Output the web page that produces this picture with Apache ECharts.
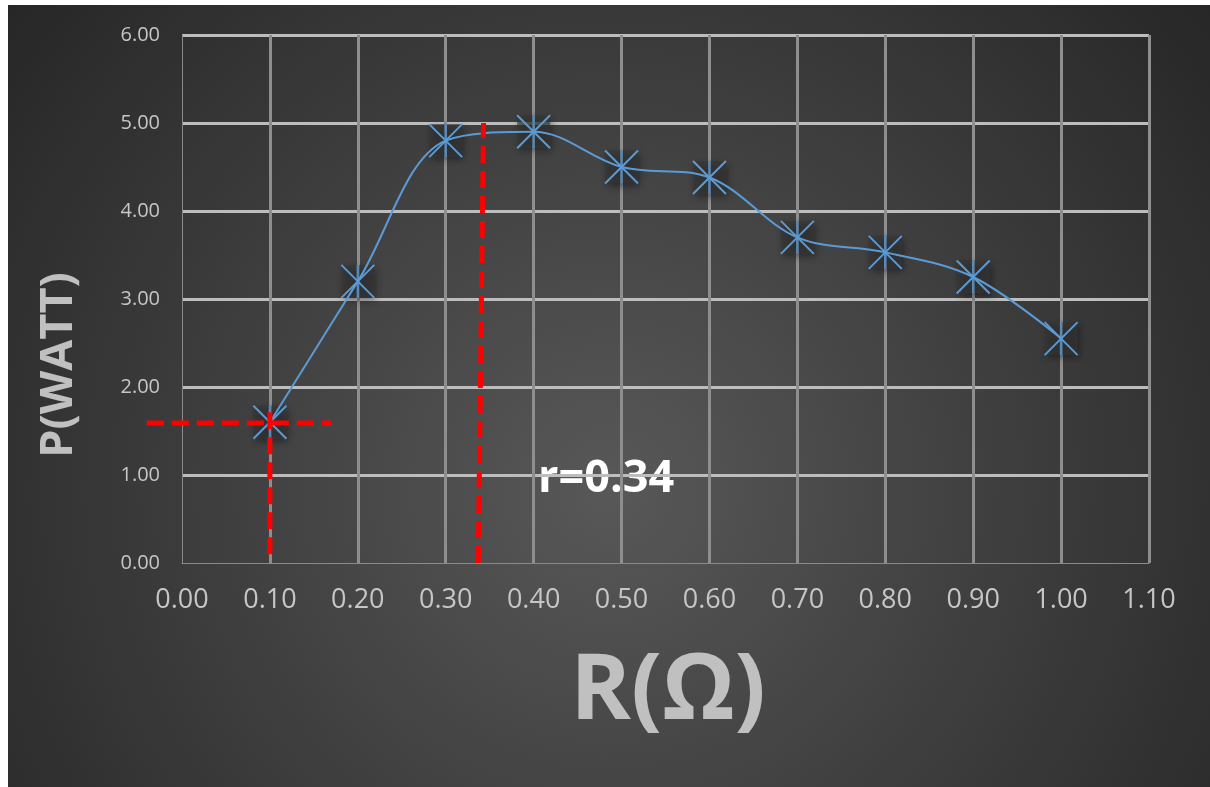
<!DOCTYPE html>
<html>
<head>
<meta charset="utf-8">
<script src="https://cdn.jsdelivr.net/npm/echarts@6/dist/echarts.min.js"></script>
<style>
html,body{margin:0;padding:0;background:#ffffff;}
#chart{position:absolute;left:8px;top:5px;width:1202px;height:782px;}
</style>
</head>
<body>
<div id="chart"></div>
<script>
// Data
const rValues = [0.1, 0.2, 0.3, 0.4, 0.5, 0.6, 0.7, 0.8, 0.9, 1.0];
const pValues = [1.6, 3.2, 4.8, 4.9, 4.5, 4.38, 3.7, 3.53, 3.25, 2.55];
const xTicks = {min: 0, max: 1.1, interval: 0.1};
const yTicks = {min: 0, max: 6, interval: 1};
// Annotation guide lines (data coordinates): [x1, y1, x2, y2]
const guideLines = [
  [0.1, 0.1, 0.1, 1.72],
  [-0.04, 1.59, 0.17, 1.59],
  [0.337, 0, 0.343, 5.0]
];
const annotationText = 'r=0.34';
const xTitle = 'R(Ω)';
const yTitle = 'P(WATT)';

const points = rValues.map((r, i) => [r, pValues[i]]);
const FONT = '"Open Sans", "Liberation Sans", sans-serif';
const labelColor = '#c6c6c6';

const chart = echarts.init(document.getElementById('chart'));
chart.setOption({
  animation: false,
  backgroundColor: {
    type: 'radial', x: 0.5, y: 0.62, r: 1.0,
    colorStops: [
      {offset: 0, color: '#585858'},
      {offset: 0.55, color: '#3c3c3c'},
      {offset: 1, color: '#262626'}
    ]
  },
  grid: {left: 174, top: 30, right: 61, bottom: 224, containLabel: false},
  xAxis: {
    type: 'value',
    min: xTicks.min, max: xTicks.max, interval: xTicks.interval,
    axisLine: {show: true, lineStyle: {color: '#8a8a8a', width: 1}},
    axisTick: {show: false},
    axisLabel: {
      color: labelColor, fontSize: 27, fontFamily: FONT, margin: 24,
      formatter: v => v.toFixed(2)
    },
    splitLine: {show: true, showMinLine: false, lineStyle: {color: '#8e8e8e', width: 3}}
  },
  yAxis: {
    type: 'value',
    min: yTicks.min, max: yTicks.max, interval: yTicks.interval,
    axisLine: {show: true, lineStyle: {color: '#8a8a8a', width: 1}},
    axisTick: {show: false},
    axisLabel: {
      color: labelColor, fontSize: 20, fontFamily: FONT, margin: 22,
      formatter: v => v.toFixed(2)
    },
    splitLine: {show: true, showMinLine: false, lineStyle: {color: '#bdbdbd', width: 3}}
  },
  graphic: [
    {
      type: 'text', x: 51, y: 360, rotation: Math.PI / 2,
      style: {text: yTitle, fill: '#c0c0c0', font: 'bold 45px ' + FONT,
              textAlign: 'center', textVerticalAlign: 'middle'}
    },
    {
      type: 'text', x: 660, y: 688,
      style: {text: xTitle, fill: '#c0c0c0', font: 'bold 92px ' + FONT,
              textAlign: 'center', textVerticalAlign: 'middle'}
    },
    {
      type: 'text', x: 530, y: 474,
      style: {text: annotationText, fill: '#ffffff', font: 'bold 45px ' + FONT,
              textAlign: 'left', textVerticalAlign: 'middle'}
    }
  ],
  series: [
    {
      type: 'scatter',
      data: points,
      symbol: 'rect',
      symbolSize: 33,
      silent: true,
      z: 2,
      itemStyle: {
        color: 'rgba(55,55,55,0.8)',
        shadowBlur: 7, shadowColor: 'rgba(0,0,0,0.6)',
        shadowOffsetX: 2, shadowOffsetY: 3
      }
    },
    {
      type: 'line',
      data: points,
      smooth: 0.35,
      z: 3,
      symbol: 'path://M0 0L10 10M10 0L0 10',
      symbolSize: 33,
      lineStyle: {color: '#5b9bd5', width: 2},
      itemStyle: {color: 'rgba(0,0,0,0)', borderColor: '#5b9bd5', borderWidth: 2}
    },
    {
      type: 'scatter',
      data: points,
      symbol: 'rect',
      symbolSize: [2.5, 33],
      silent: true,
      z: 4,
      itemStyle: {color: '#5b9bd5'}
    },
    {
      type: 'custom',
      data: guideLines,
      clip: false,
      silent: true,
      z: 5,
      encode: {x: [0, 2], y: [1, 3]},
      renderItem: function (params, api) {
        const p1 = api.coord([api.value(0), api.value(1)]);
        const p2 = api.coord([api.value(2), api.value(3)]);
        return {
          type: 'line',
          shape: {x1: p1[0], y1: p1[1], x2: p2[0], y2: p2[1]},
          style: {stroke: '#ff0000', lineWidth: 5, lineDash: [17, 8], fill: null}
        };
      }
    }
  ]
});
</script>
</body>
</html>
